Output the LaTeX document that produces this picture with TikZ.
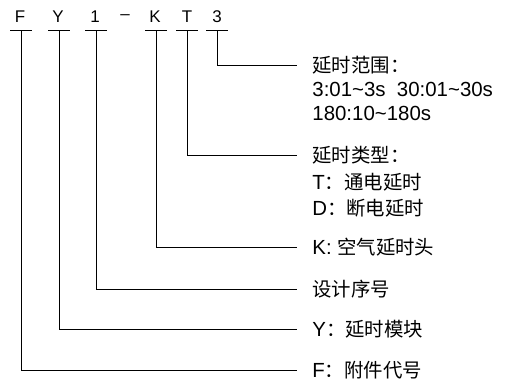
\documentclass[tikz,border=0pt]{standalone}
\usepackage{fontspec}
\setmainfont{Liberation Sans}
\newfontfamily\cjk[Scale=0.95]{Noto Sans CJK SC}
\usetikzlibrary{positioning}

\begin{document}
\begin{tikzpicture}
  [x=1bp,y=-1bp,line width=0.8bp,
   code node/.style={inner sep=0pt,font=\fontsize{17}{18}\selectfont},
   desc node/.style={anchor=west,inner xsep=15bp,inner ysep=0pt,font=\fontsize{20.5}{22}\selectfont}]
  \useasboundingbox (0,0) rectangle (507,383);

\node[code node] (f) at (20,17) {F};
\node[code node] (y) at (58,17) {Y};
\node[code node] (one) at (95,17) {1};
\node[code node] (dash) at (125,17) {\textendash};
\node[code node] (k) at (155,17) {K};
\node[code node] (t) at (187,17) {T};
\node[code node] (three) at (217,17) {3};

\coordinate (fbar) at (21,30);
\coordinate (ybar) at (59,30);
\coordinate (onebar) at (96,30);
\coordinate (kbar) at (156,30);
\coordinate (tbar) at (187,30);
\coordinate (threebar) at (217,30);

\node[desc node] (range) at (297,65) {{\cjk 延时范围：}};
\node[desc node] (range1) at (297,89) {3:01\textasciitilde3s\ \ 30:01\textasciitilde30s};
\node[desc node] (range2) at (297,113) {180:10\textasciitilde180s};
\node[desc node] (type) at (297,155) {{\cjk 延时类型：}};
\node[desc node] (type1) at (297,182) {T{\cjk ：通电延时}};
\node[desc node] (type2) at (297,208) {D{\cjk ：断电延时}};
\node[desc node] (kdesc) at (297,247) {K: {\cjk 空气延时头}};
\node[desc node] (onedesc) at (297,289) {{\cjk 设计序号}};
\node[desc node] (ydesc) at (297,329) {Y{\cjk ：延时模块}};
\node[desc node] (fdesc) at (297,370) {F{\cjk ：附件代号}};

  % short bars under the code
  \draw ([xshift=-11bp]fbar) -- ([xshift=11bp]fbar);
  \draw ([xshift=-11bp]ybar) -- ([xshift=11bp]ybar);
  \draw ([xshift=-11bp]onebar) -- ([xshift=11bp]onebar);
  \draw ([xshift=-11bp]kbar) -- ([xshift=11bp]kbar);
  \draw ([xshift=-11bp]tbar) -- ([xshift=11bp]tbar);
  \draw ([xshift=-11bp]threebar) -- ([xshift=11bp]threebar);

  \draw (threebar) |- (range.west);
  \draw (tbar) |- (type.west);
  \draw (kbar) |- (kdesc.west);
  \draw (onebar) |- (onedesc.west);
  \draw (ybar) |- (ydesc.west);
  \draw (fbar) |- (fdesc.west);

\end{tikzpicture}
\end{document}
